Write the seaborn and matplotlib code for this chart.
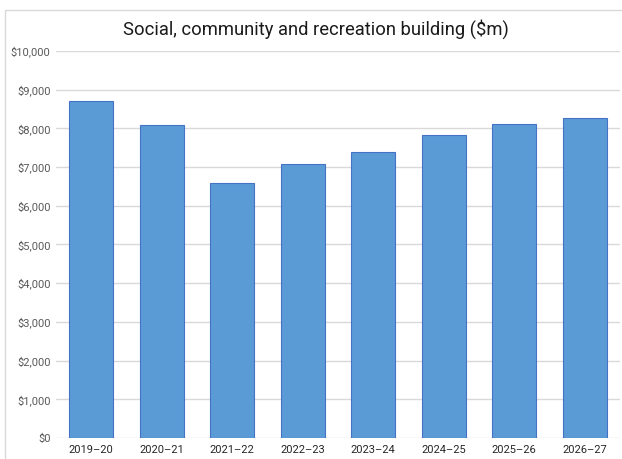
import matplotlib
matplotlib.use("Agg")
import matplotlib.pyplot as plt
import seaborn as sns
import pandas as pd
from matplotlib.ticker import FuncFormatter
from matplotlib.patches import Rectangle

years = ["2019–20", "2020–21", "2021–22", "2022–23", "2023–24", "2024–25", "2025–26", "2026–27"]
values = [8700, 8090, 6590, 7070, 7380, 7830, 8120, 8260]
yticks = [0, 1000, 2000, 3000, 4000, 5000, 6000, 7000, 8000, 9000, 10000]
title = "Social, community and recreation building ($m)"

df = pd.DataFrame({"year": years, "value": values})

sns.set_style("white")
plt.rcParams["font.family"] = ["Roboto", "DejaVu Sans"]

fig = plt.figure(figsize=(6.22, 4.59), dpi=100)
ax = fig.add_axes([56 / 622, 1 - 438 / 459, 564 / 622, 387 / 459])

sns.barplot(data=df, x="year", y="value", ax=ax, color="#5B9BD5", width=0.62,
            edgecolor="#4472C4", linewidth=0.8, saturation=1)

ax.set_ylim(0, 10000)
ax.set_xlim(-0.5, len(years) - 0.5)
ax.set_yticks(yticks)
ax.yaxis.set_major_formatter(FuncFormatter(lambda v, p: f"${v:,.0f}"))
ax.grid(axis="y", color="#D9D9D9", linewidth=1)
ax.set_axisbelow(True)
for s in ax.spines.values():
    s.set_visible(False)
ax.set_xlabel("")
ax.set_ylabel("")
ax.tick_params(axis="y", labelsize=8, colors="#595959", length=0, pad=4)
ax.tick_params(axis="x", labelsize=8, colors="#262626", length=0, pad=5)

fig.text(316 / 622, 1 - 29 / 459, title, ha="center", va="center", fontsize=13.2, color="#1a1a1a")

fig.patches.append(Rectangle((5 / 622, -0.1), 1.2, 1 - 10 / 459 + 0.1, transform=fig.transFigure,
                             fill=False, edgecolor="#D9D9D9", linewidth=1))

fig.savefig("out.png", dpi=100)
